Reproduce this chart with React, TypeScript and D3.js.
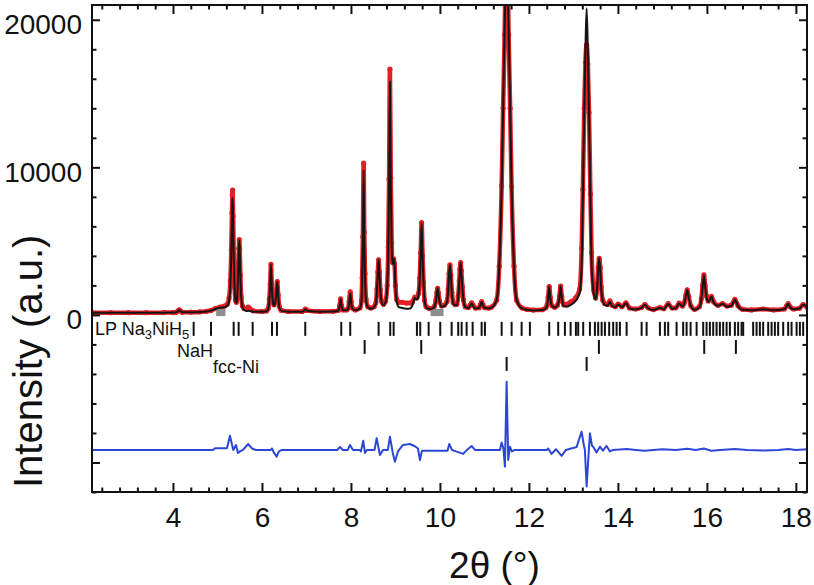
import React, { useEffect, useRef } from 'react';
import * as d3 from 'd3';

// observed / calculated profile: [2θ, I_obs, I_calc]
const profile: [number, number, number][] = [
  [2.18, 150, 150], [2.6, 150, 148], [3.0, 148, 148], [3.4, 150, 150], [3.8, 155, 152],
  [4.0, 160, 158], [4.07, 175, 170], [4.11, 260, 250], [4.14, 340, 330], [4.17, 260, 250],
  [4.21, 180, 175], [4.4, 185, 180], [4.6, 205, 200], [4.75, 240, 230], [4.85, 300, 290],
  [4.95, 430, 400], [5.05, 530, 480], [5.15, 590, 520], [5.22, 720, 620], [5.26, 1150, 950],
  [5.29, 2300, 2050], [5.31, 4400, 4050], [5.325, 6900, 6450], [5.334, 8150, 7700], [5.341, 8450, 7900],
  [5.352, 6700, 6300], [5.366, 4100, 3900], [5.385, 1900, 1800], [5.405, 1000, 950], [5.425, 850, 800],
  [5.445, 1300, 1250], [5.465, 2900, 2800], [5.48, 4500, 4450], [5.49, 5100, 5080], [5.5, 4500, 4450],
  [5.515, 2700, 2650], [5.535, 1200, 1150], [5.56, 620, 560], [5.6, 430, 340], [5.65, 430, 260],
  [5.69, 530, 280], [5.73, 430, 260], [5.8, 280, 220], [6.0, 230, 210], [6.1, 270, 250],
  [6.14, 420, 400], [6.165, 1050, 1000], [6.185, 2100, 2000], [6.202, 3430, 3430], [6.22, 2100, 2000],
  [6.245, 950, 900], [6.27, 680, 620], [6.3, 950, 900], [6.322, 1550, 1500], [6.344, 2260, 2260],
  [6.365, 1350, 1300], [6.39, 580, 520], [6.43, 320, 290], [6.6, 230, 220], [6.9, 230, 220],
  [6.95, 300, 280], [6.98, 400, 380], [7.01, 300, 280], [7.3, 230, 220], [7.6, 240, 230],
  [7.72, 310, 290], [7.745, 620, 590], [7.768, 1080, 1060], [7.79, 620, 590], [7.82, 340, 320],
  [7.9, 340, 310], [7.94, 460, 420], [7.96, 920, 860], [7.984, 1560, 1470], [8.005, 920, 860],
  [8.03, 470, 430], [8.1, 340, 310], [8.2, 470, 430], [8.235, 950, 880], [8.252, 2500, 2300],
  [8.268, 5300, 4950], [8.285, 10280, 9820], [8.3, 5600, 5300], [8.316, 2800, 2650], [8.34, 1050, 980],
  [8.38, 560, 510], [8.45, 460, 420], [8.52, 560, 520], [8.56, 820, 770], [8.585, 1750, 1680],
  [8.605, 2900, 2850], [8.622, 3730, 3730], [8.64, 2900, 2850], [8.66, 1700, 1650], [8.69, 920, 870],
  [8.73, 720, 660], [8.78, 950, 880], [8.815, 2000, 1900], [8.838, 4600, 4300], [8.857, 9200, 8600],
  [8.876, 16650, 15800], [8.895, 9300, 8900], [8.915, 4900, 4700], [8.935, 3550, 3450], [8.96, 3800, 3800],
  [8.98, 3450, 3500], [9.0, 2000, 1950], [9.03, 1050, 850], [9.07, 850, 550], [9.15, 850, 470],
  [9.25, 800, 420], [9.33, 800, 440], [9.38, 880, 620], [9.438, 1200, 1150], [9.48, 1150, 1050],
  [9.52, 1450, 1350], [9.545, 2500, 2400], [9.567, 4200, 4100], [9.589, 6250, 6250], [9.61, 4000, 3950],
  [9.632, 2200, 2150], [9.655, 1000, 980], [9.69, 560, 520], [9.74, 460, 420], [9.8, 420, 400],
  [9.87, 560, 520], [9.91, 1000, 950], [9.93, 1500, 1450], [9.948, 1800, 1800], [9.966, 1500, 1450],
  [9.99, 960, 920], [10.04, 610, 560], [10.1, 660, 610], [10.16, 920, 870], [10.185, 1750, 1680],
  [10.205, 2800, 2750], [10.225, 3390, 3390], [10.245, 2700, 2650], [10.27, 1500, 1450], [10.3, 820, 770],
  [10.34, 700, 650], [10.38, 720, 670], [10.41, 1250, 1180], [10.435, 2300, 2250], [10.45, 3100, 3050],
  [10.465, 3540, 3540], [10.48, 3000, 2950], [10.505, 1900, 1850], [10.53, 1000, 960], [10.57, 560, 520],
  [10.64, 500, 460], [10.68, 660, 610], [10.712, 820, 780], [10.745, 660, 610], [10.8, 460, 430],
  [10.88, 490, 460], [10.91, 700, 680], [10.937, 900, 880], [10.965, 700, 680], [11.0, 500, 480],
  [11.1, 460, 440], [11.16, 530, 490], [11.274, 1000, 1000], [11.333, 3300, 3270], [11.387, 8750, 8700],
  [11.42, 14000, 14000], [11.454, 19000, 19500], [11.499, 28000, 23500], [11.544, 19000, 19500], [11.578, 14000, 14000],
  [11.61, 8700, 8700], [11.665, 3300, 3270], [11.724, 1000, 1000], [11.84, 480, 450], [11.95, 380, 350],
  [12.1, 330, 300], [12.3, 350, 330], [12.38, 480, 450], [12.41, 700, 660], [12.432, 1200, 1150],
  [12.456, 1920, 1920], [12.48, 1200, 1150], [12.52, 620, 580], [12.58, 520, 500], [12.64, 660, 620],
  [12.686, 1250, 1200], [12.712, 1960, 1960], [12.738, 1250, 1200], [12.78, 680, 620], [12.85, 720, 560],
  [12.95, 900, 700], [13.05, 1150, 950], [13.14, 1750, 1500], [13.185, 4500, 3270], [13.212, 8500, 7800],
  [13.243, 14000, 13700], [13.27, 17100, 18000], [13.297, 18300, 20780], [13.324, 17000, 18000], [13.351, 13700, 13700],
  [13.382, 8200, 7800], [13.409, 4200, 3270], [13.454, 1700, 1500], [13.5, 1150, 1050], [13.535, 2000, 1900],
  [13.558, 3200, 3100], [13.58, 3840, 3840], [13.602, 3200, 3100], [13.625, 1900, 1800], [13.66, 1000, 950],
  [13.7, 780, 700], [13.77, 700, 620], [13.82, 950, 900], [13.87, 660, 600], [13.94, 560, 520],
  [14.007, 740, 700], [14.09, 560, 520], [14.18, 820, 790], [14.26, 470, 430], [14.4, 400, 370],
  [14.53, 500, 470], [14.607, 700, 680], [14.68, 480, 450], [14.8, 360, 330], [14.944, 490, 470],
  [15.03, 420, 390], [15.13, 760, 740], [15.22, 460, 420], [15.3, 480, 450], [15.378, 800, 780],
  [15.45, 600, 570], [15.49, 800, 770], [15.525, 1300, 1250], [15.557, 1700, 1690], [15.59, 1250, 1200],
  [15.64, 620, 580], [15.72, 380, 350], [15.83, 560, 520], [15.875, 1100, 1050], [15.905, 2000, 1950],
  [15.933, 2710, 2710], [15.96, 2000, 1950], [15.99, 1300, 1250], [16.03, 950, 900], [16.065, 1050, 1000],
  [16.105, 1250, 1240], [16.15, 900, 850], [16.25, 650, 620], [16.353, 760, 750], [16.45, 600, 560],
  [16.55, 660, 620], [16.629, 1050, 1020], [16.7, 620, 580], [16.8, 380, 350], [17.0, 340, 320],
  [17.265, 400, 390], [17.5, 340, 320], [17.74, 400, 380], [17.79, 600, 580], [17.827, 760, 750],
  [17.87, 550, 520], [17.95, 400, 380], [18.08, 450, 430], [18.164, 700, 680], [18.25, 520, 500],
];

// I_obs - I_calc, drawn with an offset below the pattern
const difference: [number, number][] = [
  [2.18, 0], [4.9, 0], [4.944, 110], [5.213, 110], [5.281, 960], [5.315, 500], [5.355, 0], [5.416, 340],
  [5.461, -200], [5.506, -100], [5.573, 0], [5.692, 400], [5.775, 100], [5.865, 0], [6.2, 0], [6.225, 100],
  [6.27, -200], [6.33, -450], [6.382, -100], [6.45, 0], [7.7, 0], [7.753, 200], [7.82, 0], [7.93, 0],
  [7.978, 340], [8.045, 0], [8.2, 0], [8.225, -100], [8.276, 630], [8.315, -200], [8.36, 0], [8.53, 0],
  [8.578, 800], [8.622, 100], [8.652, -340], [8.72, 0], [8.83, 0], [8.876, 900], [8.94, -200], [8.989, -800],
  [9.056, -100], [9.169, 340], [9.326, 400], [9.438, 250], [9.506, 100], [9.551, -680], [9.596, -50], [9.8, -50],
  [10.17, -50], [10.209, 400], [10.27, 0], [10.36, -100], [10.524, -270], [10.607, 0], [10.712, 270], [10.787, 0],
  [11.35, 0], [11.387, 500], [11.427, 100], [11.461, -1130], [11.499, 4620], [11.535, -680], [11.573, 220], [11.618, -100],
  [11.685, 0], [12.4, 0], [12.434, 100], [12.51, -270], [12.607, 50], [12.735, -400], [12.831, 0], [13.072, 200],
  [13.184, 1240], [13.236, 300], [13.258, 0], [13.297, -2480], [13.337, -500], [13.371, 1130], [13.416, 300], [13.445, 220],
  [13.52, -170], [13.596, 220], [13.663, -50], [13.746, 270], [13.82, -100], [13.888, 0], [14.2, 60], [14.4, 0],
  [14.6, -60], [14.8, 0], [15.0, 50], [15.3, 0], [15.56, 80], [15.75, 0], [15.93, 100], [16.1, -60],
  [16.3, 0], [16.63, 60], [16.9, 0], [17.3, -40], [17.6, 0], [17.83, 60], [18.0, 0], [18.25, 40],
];
const diffOffset = -9150;

// Bragg reflection positions (2θ)
const na3nih5Refl = [
  4.465, 4.854, 5.364, 5.476, 5.791, 6.225, 6.337, 6.973, 7.782, 7.984, 8.622, 8.883, 8.96, 9.483,
  9.557, 9.746, 10.007, 10.263, 10.411, 10.488, 10.6, 10.735, 10.937, 11.011, 11.387, 11.611, 11.836,
  12.022, 12.456, 12.658, 12.809, 12.937, 13.056, 13.108, 13.22, 13.371, 13.483, 13.557, 13.634, 13.708,
  13.804, 13.894, 13.971, 14.045, 14.196, 14.533, 14.645, 14.944, 15.056, 15.13, 15.319, 15.467, 15.544,
  15.634, 15.769, 15.917, 15.993, 16.067, 16.142, 16.218, 16.292, 16.366, 16.443, 16.517, 16.629, 16.703,
  16.78, 16.816, 17.04, 17.117, 17.191, 17.265, 17.378, 17.454, 17.528, 17.602, 17.715, 17.827, 17.903,
  18.016, 18.09, 18.164,
];
const nahRefl = [8.308, 9.58, 13.573, 15.94, 16.652];
const niRefl = [11.499, 13.297];

// excluded 2θ ranges (grey)
const excludedRegions: [number, number][] = [[4.97, 5.18], [9.79, 10.08]];

const xMajorTicks = [4, 6, 8, 10, 12, 14, 16, 18];
const yMajorTicks = [-10000, 0, 10000, 20000];
const yLabelled = [0, 10000, 20000];

const W = 814;
const H = 585;
const FONT = '"Liberation Sans", Arial, Helvetica, sans-serif';
const RED = '#e31e24';
const BLUE = '#2c47d8';

export default function App() {
  const svgRef = useRef<SVGSVGElement>(null);

  useEffect(() => {
    if (!svgRef.current) return;
    const svg = d3.select(svgRef.current);
    svg.selectAll('*').remove();

    const left = 92, right = 807, top = 5, bottom = 492;
    const x = d3.scaleLinear().domain([2.18, 18.25]).range([left, right]);
    const y = d3.scaleLinear().domain([-12000, 21000]).range([bottom, top]);

    svg.append('defs').append('clipPath').attr('id', 'plot-clip')
      .append('rect').attr('x', left).attr('y', top)
      .attr('width', right - left).attr('height', bottom - top);

    const plot = svg.append('g').attr('clip-path', 'url(#plot-clip)');

    // observed: thick red band + dots
    const obsLine = d3.line<[number, number, number]>()
      .x(d => x(d[0])).y(d => y(d[1])).curve(d3.curveMonotoneX);
    plot.append('path').datum(profile).attr('d', obsLine)
      .attr('fill', 'none').attr('stroke', RED).attr('stroke-width', 4.5)
      .attr('stroke-linejoin', 'round');
    plot.selectAll('circle.obs').data(profile).join('circle')
      .attr('class', 'obs').attr('cx', d => x(d[0])).attr('cy', d => y(d[1]))
      .attr('r', 2.6).attr('fill', RED);

    // excluded regions
    const exArea = d3.area<number>().x(d => x(d)).y0(y(-80)).y1(y(400));
    excludedRegions.forEach(r => {
      plot.append('path').datum(r).attr('d', exArea).attr('fill', '#8e8e8e');
    });

    // calculated
    const calcLine = d3.line<[number, number, number]>()
      .x(d => x(d[0])).y(d => y(d[2])).curve(d3.curveMonotoneX);
    plot.append('path').datum(profile).attr('d', calcLine)
      .attr('fill', 'none').attr('stroke', '#151515').attr('stroke-width', 2)
      .attr('stroke-linejoin', 'round');

    // difference
    const diffLine = d3.line<[number, number]>()
      .x(d => x(d[0])).y(d => y(d[1] + diffOffset));
    plot.append('path').datum(difference).attr('d', diffLine)
      .attr('fill', 'none').attr('stroke', BLUE).attr('stroke-width', 2)
      .attr('stroke-linejoin', 'round');

    // Bragg tick rows
    const rows: { refl: number[]; y0: number; y1: number }[] = [
      { refl: na3nih5Refl, y0: -470, y1: -1420 },
      { refl: nahRefl, y0: -1700, y1: -2640 },
      { refl: niRefl, y0: -2850, y1: -3790 },
    ];
    rows.forEach(row => {
      plot.append('g').selectAll('line').data(row.refl).join('line')
        .attr('x1', d => x(d)).attr('x2', d => x(d))
        .attr('y1', y(row.y0)).attr('y2', y(row.y1))
        .attr('stroke', '#111').attr('stroke-width', 2);
    });

    // axes
    const xMinor = d3.range(2.4, 18.25, 0.4).filter(v => Math.abs(v / 2 - Math.round(v / 2)) > 0.01);
    const yMinor = d3.range(-12000, 21000, 2000).filter(v => v % 10000 !== 0);

    const styleAxis = (g: d3.Selection<SVGGElement, unknown, null, undefined>) => {
      g.select('.domain').remove();
      g.selectAll('.tick line').attr('stroke', '#111').attr('stroke-width', 2);
      g.selectAll('.tick text').attr('font-family', FONT).attr('font-size', 28).attr('fill', '#111');
    };

    svg.append('g').attr('transform', `translate(0,${bottom})`)
      .call(d3.axisBottom(x).tickValues(xMajorTicks).tickSize(-9).tickPadding(15).tickFormat(d3.format('d')))
      .call(styleAxis);
    svg.append('g').attr('transform', `translate(0,${bottom})`)
      .call(d3.axisBottom(x).tickValues(xMinor).tickSize(-4.5).tickFormat(() => ''))
      .call(styleAxis);
    svg.append('g').attr('transform', `translate(0,${top})`)
      .call(d3.axisTop(x).tickValues(xMajorTicks).tickSize(-9).tickFormat(() => ''))
      .call(styleAxis);
    svg.append('g').attr('transform', `translate(0,${top})`)
      .call(d3.axisTop(x).tickValues(xMinor).tickSize(-4.5).tickFormat(() => ''))
      .call(styleAxis);

    svg.append('g').attr('transform', `translate(${left},0)`)
      .call(d3.axisLeft(y).tickValues(yMajorTicks).tickSize(-8).tickPadding(10)
        .tickFormat(d => (yLabelled.includes(+d) ? d3.format('d')(+d) : '')))
      .call(styleAxis)
      .call(g => g.selectAll('.tick text').attr('dy', '0.5em'));
    svg.append('g').attr('transform', `translate(${left},0)`)
      .call(d3.axisLeft(y).tickValues(yMinor).tickSize(-4.5).tickFormat(() => ''))
      .call(styleAxis);
    svg.append('g').attr('transform', `translate(${right},0)`)
      .call(d3.axisRight(y).tickValues(yMajorTicks).tickSize(-8).tickFormat(() => ''))
      .call(styleAxis);
    svg.append('g').attr('transform', `translate(${right},0)`)
      .call(d3.axisRight(y).tickValues(yMinor).tickSize(-4.5).tickFormat(() => ''))
      .call(styleAxis);

    svg.append('rect').attr('x', left).attr('y', top)
      .attr('width', right - left).attr('height', bottom - top)
      .attr('fill', 'none').attr('stroke', '#111').attr('stroke-width', 2);

    // phase labels
    const lab = svg.append('g').attr('font-family', FONT).attr('font-size', 18).attr('fill', '#111');
    const t1 = lab.append('text').attr('x', 95).attr('y', 335);
    t1.append('tspan').text('LP Na');
    t1.append('tspan').attr('font-size', 13).attr('dy', 4).text('3');
    t1.append('tspan').attr('dy', -4).text('NiH');
    t1.append('tspan').attr('font-size', 13).attr('dy', 4).text('5');
    lab.append('text').attr('x', 177).attr('y', 357).text('NaH');
    lab.append('text').attr('x', 213).attr('y', 373).text('fcc-Ni');

    // axis titles
    svg.append('text').attr('x', (left + right) / 2 + 45).attr('y', 578)
      .attr('text-anchor', 'middle').attr('font-family', FONT).attr('font-size', 37)
      .attr('fill', '#111').text('2θ (°)');
    svg.append('text').attr('transform', 'translate(42,488) rotate(-90)')
      .attr('font-family', FONT).attr('font-size', 40).attr('fill', '#111')
      .text('Intensity (a.u.)');
  }, []);

  return (
    <svg ref={svgRef} width={W} height={H}
      style={{ position: 'absolute', left: 0, top: 0, background: '#fff' }} />
  );
}
